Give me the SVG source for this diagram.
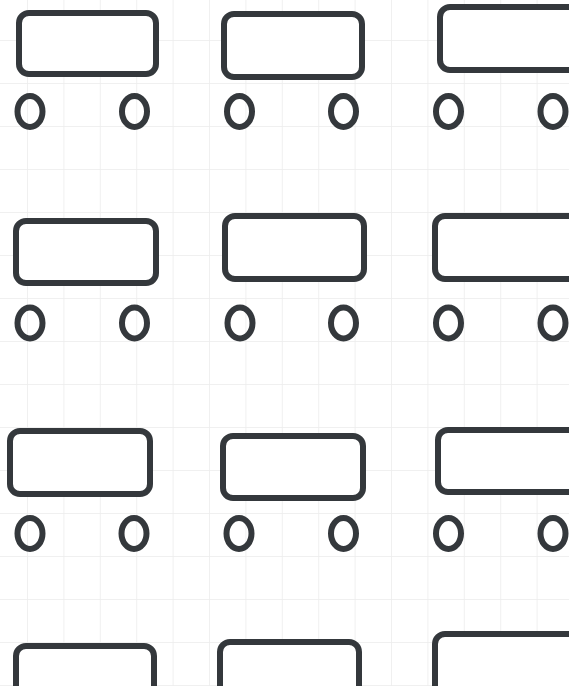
<svg xmlns="http://www.w3.org/2000/svg" width="569" height="686" viewBox="0 0 569 686">
<defs>
<pattern id="grid" x="27" y="40" width="36.4" height="43" patternUnits="userSpaceOnUse">
<path d="M0 0V43M0 0H36.4" fill="none" stroke="#ececec" stroke-width="1.5"/>
</pattern>
<style>
.box{fill:#ffffff;stroke:#34383c;stroke-width:6}
.wheel{fill:none;stroke:#34383c;stroke-width:6}
</style>
</defs>
<rect width="569" height="686" fill="#ffffff"/>
<rect width="569" height="686" fill="url(#grid)"/>
<g id="connectors"></g>
<g id="cart-1-1"><rect class="box" x="19" y="13" width="137" height="61" rx="10"/><ellipse class="wheel" cx="30" cy="111.5" rx="12.5" ry="15.5"/><ellipse class="wheel" cx="134.5" cy="111.5" rx="12.5" ry="15.5"/></g>
<g id="cart-1-2"><rect class="box" x="224" y="14" width="138" height="63" rx="10"/><ellipse class="wheel" cx="239.5" cy="111.5" rx="12.5" ry="15.5"/><ellipse class="wheel" cx="343.5" cy="111.5" rx="12.5" ry="15.5"/></g>
<g id="cart-1-3"><rect class="box" x="440" y="7" width="200" height="63" rx="10"/><ellipse class="wheel" cx="448.5" cy="111.5" rx="12.5" ry="15.5"/><ellipse class="wheel" cx="553" cy="111.5" rx="12.5" ry="15.5"/></g>
<g id="cart-2-1"><rect class="box" x="16" y="221" width="140" height="62" rx="10"/><ellipse class="wheel" cx="30" cy="323" rx="12.5" ry="15.5"/><ellipse class="wheel" cx="134.5" cy="323" rx="12.5" ry="15.5"/></g>
<g id="cart-2-2"><rect class="box" x="225" y="216" width="139" height="63" rx="10"/><ellipse class="wheel" cx="240" cy="323" rx="12.5" ry="15.5"/><ellipse class="wheel" cx="343.5" cy="323" rx="12.5" ry="15.5"/></g>
<g id="cart-2-3"><rect class="box" x="435" y="216" width="200" height="63" rx="10"/><ellipse class="wheel" cx="448.5" cy="323" rx="12.5" ry="15.5"/><ellipse class="wheel" cx="553" cy="323" rx="12.5" ry="15.5"/></g>
<g id="cart-3-1"><rect class="box" x="10" y="431" width="140" height="63" rx="10"/><ellipse class="wheel" cx="30" cy="533.5" rx="12.5" ry="15.5"/><ellipse class="wheel" cx="134" cy="533.5" rx="12.5" ry="15.5"/></g>
<g id="cart-3-2"><rect class="box" x="223" y="436" width="140" height="62" rx="10"/><ellipse class="wheel" cx="239" cy="533.5" rx="12.5" ry="15.5"/><ellipse class="wheel" cx="343.5" cy="533.5" rx="12.5" ry="15.5"/></g>
<g id="cart-3-3"><rect class="box" x="438" y="430" width="200" height="62" rx="10"/><ellipse class="wheel" cx="448.5" cy="533.5" rx="12.5" ry="15.5"/><ellipse class="wheel" cx="553" cy="533.5" rx="12.5" ry="15.5"/></g>
<g id="cart-4-1"><rect class="box" x="16" y="646" width="138" height="100" rx="10"/></g>
<g id="cart-4-2"><rect class="box" x="220" y="642" width="139" height="100" rx="10"/></g>
<g id="cart-4-3"><rect class="box" x="435" y="634" width="200" height="100" rx="10"/></g>
</svg>
